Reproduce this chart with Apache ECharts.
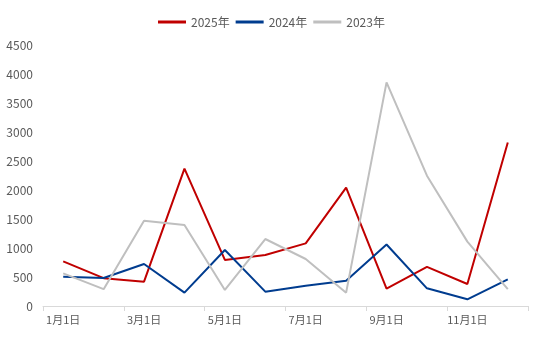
<!DOCTYPE html>
<html><head><meta charset="utf-8">
<script src="https://cdn.jsdelivr.net/npm/echarts@6/dist/echarts.min.js"></script>
<style>html,body{margin:0;padding:0;background:#fff}#c{width:543px;height:338px}</style>
</head><body><div id="c"></div>
<script>
var categories = ['1月1日','2月1日','3月1日','4月1日','5月1日','6月1日','7月1日','8月1日','9月1日','10月1日','11月1日','12月1日'];
var s2025 = [770, 480, 420, 2370, 795, 880, 1080, 2040, 300, 675, 380, 2820];
var s2024 = [505, 483, 725, 230, 965, 247, 350, 437, 1060, 305, 115, 460];
var s2023 = [563, 290, 1470, 1397, 276, 1155, 810, 230, 3856, 2247, 1110, 290];
var yTicks = {min: 0, max: 4500, interval: 500};

var chart = echarts.init(document.getElementById('c'));
var font = '"Noto Sans CJK SC", "Liberation Sans", sans-serif';
function mk(name, data, color) {
  return {name: name, type: 'line', data: data, symbol: 'none', smooth: false,
    lineStyle: {color: color, width: 2}, itemStyle: {color: color}};
}
chart.setOption({
  animation: false,
  textStyle: {fontFamily: font},
  legend: {top: 11, left: 153, itemWidth: 28, itemHeight: 3, itemGap: 6, icon: 'rect',
    textStyle: {color: '#595959', fontSize: 12, fontFamily: font},
    data: ['2025年','2024年','2023年']},
  grid: {left: 43, right: 15, top: 45, bottom: 32},
  xAxis: {type: 'category', data: categories, boundaryGap: true,
    axisLine: {lineStyle: {color: '#d9d9d9'}},
    axisTick: {show: true, interval: 1, lineStyle: {color: '#d9d9d9'}, length: 5},
    axisLabel: {interval: 1, color: '#595959', fontSize: 11, margin: 8, fontFamily: font}},
  yAxis: {type: 'value', min: yTicks.min, max: yTicks.max, interval: yTicks.interval,
    splitLine: {show: false}, axisLine: {show: false}, axisTick: {show: false},
    axisLabel: {color: '#595959', fontSize: 12, margin: 10, fontFamily: font,
      formatter: function (v) { return String(v); }}},
  series: [mk('2025年', s2025, '#C00000'), mk('2024年', s2024, '#003C8F'), mk('2023年', s2023, '#BFBFBF')]
});
</script></body></html>
